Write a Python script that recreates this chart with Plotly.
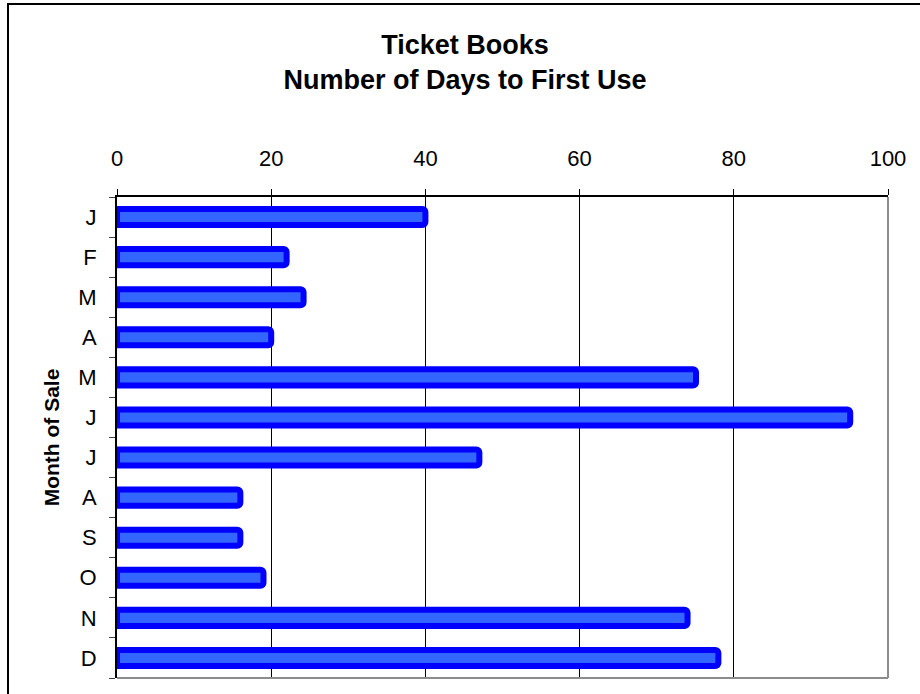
import plotly.graph_objects as go

months = ["J", "F", "M", "A", "M", "J", "J", "A", "S", "O", "N", "D"]
days = [40, 22, 24.2, 20, 75.1, 95.1, 47, 16, 16, 19, 74, 78]
x_ticks = [0, 20, 40, 60, 80, 100]

W, H = 920, 694
L, R, T, B = 117, 888, 197, 678
pw, ph = R - L, B - T


def px(x):
    return (x - L) / pw


def py(y):
    return (B - y) / ph


pos = list(range(len(months)))

fig = go.Figure()
fig.add_trace(go.Bar(
    x=days, y=pos, orientation="h", width=0.4,
    marker=dict(color="#3366FF", line=dict(color="#0000FF", width=6), cornerradius=3),
    hoverinfo="skip",
))

font = "Liberation Sans, Arial, sans-serif"
fig.update_layout(
    width=W, height=H,
    margin=dict(l=L, r=W - R, t=T, b=H - B, pad=0),
    paper_bgcolor="white", plot_bgcolor="white",
    showlegend=False,
    font=dict(family=font, size=21, color="black"),
    title=dict(text="<b>Ticket Books</b><br><b>Number of Days to First Use</b>",
               x=465 / W, xanchor="center", xref="container", y=1 - 54 / H, yanchor="middle",
               font=dict(size=27, family=font, color="black")),
    xaxis=dict(side="top", range=[0, 100], tickvals=x_ticks, ticks="outside", ticklen=6,
               tickcolor="black", tickwidth=1, showline=True, linecolor="black", linewidth=2,
               showgrid=True, gridcolor="black", gridwidth=1, zeroline=False,
               tickfont=dict(size=22), ticklabelstandoff=14, fixedrange=True),
    yaxis=dict(range=[11.5, -0.5], tickvals=pos, ticktext=months, ticks="", ticklen=0,
               showline=True, linecolor="black", linewidth=2, showgrid=False, zeroline=False,
               tickfont=dict(size=22), ticklabelstandoff=14,
               minor=dict(tickvals=[i - 0.5 for i in range(len(months) + 1)], ticks="outside",
                          ticklen=6, tickcolor="#404040", tickwidth=1, showgrid=False),
               title=dict(text="<b>Month of Sale</b>", font=dict(size=21), standoff=13),
               fixedrange=True),
    bargap=0.6,
)

# gray right and bottom plot border
fig.add_shape(type="line", xref="paper", yref="paper", x0=1, x1=1, y0=0, y1=1,
              line=dict(color="#8c8c8c", width=2))
fig.add_shape(type="line", xref="paper", yref="paper", x0=0, x1=1, y0=0, y1=0,
              line=dict(color="#8c8c8c", width=2))
# outer chart frame (extends beyond the page at right/bottom)
fig.add_shape(type="rect", xref="paper", yref="paper", x0=px(8), x1=px(940), y0=py(4), y1=py(720),
              line=dict(color="black", width=2), fillcolor="rgba(0,0,0,0)")

fig.write_html("out.html")
